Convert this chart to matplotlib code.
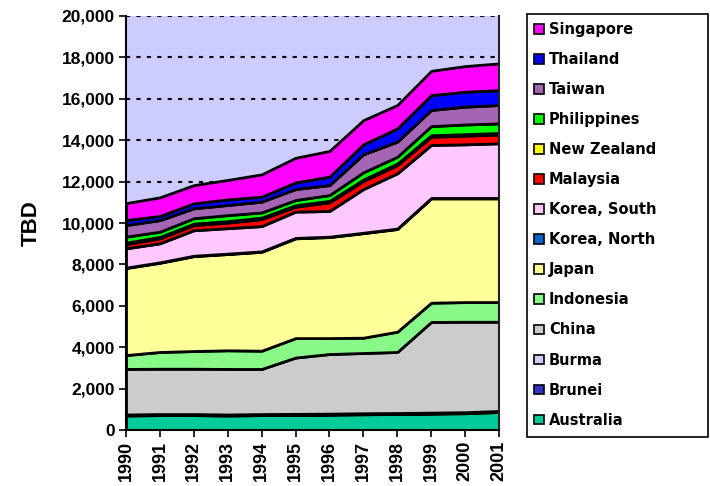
import matplotlib
matplotlib.use("Agg")
import matplotlib.pyplot as plt
from matplotlib.patches import Patch, Rectangle
import numpy as np

years = [1990, 1991, 1992, 1993, 1994, 1995, 1996, 1997, 1998, 1999, 2000, 2001]

australia   = [700, 720, 720, 700, 720, 730, 740, 760, 770, 790, 810, 870]
brunei      = [20, 20, 20, 20, 20, 20, 20, 20, 20, 20, 20, 20]
burma       = [30, 30, 30, 30, 30, 30, 30, 30, 30, 30, 30, 30]
china       = [2200, 2190, 2190, 2200, 2180, 2720, 2880, 2910, 2950, 4380, 4370, 4310]
indonesia   = [670, 810, 855, 900, 880, 940, 770, 740, 980, 930, 950, 950]
japan       = [4205, 4310, 4585, 4650, 4780, 4820, 4880, 5050, 4960, 5040, 5010, 5010]
korea_north = [20, 20, 20, 20, 20, 20, 20, 20, 20, 20, 20, 20]
korea_south = [930, 920, 1230, 1230, 1220, 1270, 1240, 2110, 2670, 2560, 2590, 2640]
malaysia    = [205, 240, 250, 270, 340, 240, 420, 390, 400, 400, 420, 430]
new_zealand = [70, 70, 70, 70, 70, 70, 70, 70, 70, 70, 70, 70]
philippines = [290, 250, 260, 290, 250, 250, 280, 350, 330, 440, 470, 460]
taiwan      = [560, 560, 480, 490, 520, 530, 480, 870, 730, 780, 860, 890]
thailand    = [240, 200, 240, 270, 240, 320, 410, 480, 640, 720, 720, 720]
singapore   = [820, 900, 880, 940, 1080, 1190, 1240, 1170, 1130, 1170, 1240, 1290]

series_names = ["Australia", "Brunei", "Burma", "China", "Indonesia", "Japan",
                "Korea, North", "Korea, South", "Malaysia", "New Zealand",
                "Philippines", "Taiwan", "Thailand", "Singapore"]
series_values = [australia, brunei, burma, china, indonesia, japan, korea_north,
                 korea_south, malaysia, new_zealand, philippines, taiwan,
                 thailand, singapore]
colors = ["#00CC99", "#3333CC", "#CCCCFF", "#CCCCCC", "#88F888", "#FFFF99",
          "#0066CC", "#FFC8FF", "#FF0000", "#FFFF00", "#00FF00", "#A466B4",
          "#0000FF", "#FF00FF"]

yticks = [0, 2000, 4000, 6000, 8000, 10000, 12000, 14000, 16000, 18000, 20000]
ytick_labels = ["0", "2,000", "4,000", "6,000", "8,000", "10,000", "12,000",
                "14,000", "16,000", "18,000", "20,000"]

plt.rcParams['font.family'] = ['Liberation Sans', 'DejaVu Sans']

fig = plt.figure(figsize=(7.10, 4.86), dpi=100)
ax = fig.add_axes([126/710, 1-430/486, (499-126)/710, (430-16)/486])
ax.set_facecolor("#CCCCFF")

for yv in yticks[1:]:
    ax.axhline(yv, color="black", lw=1.5, ls=(0, (2, 3)), zorder=1)

polys = ax.stackplot(years, *series_values, colors=colors,
                     edgecolor="black", linewidth=2.0, zorder=2)

ax.set_xlim(years[0], years[-1])
ax.set_ylim(0, 20000)
ax.set_xticks(years)
ax.set_xticklabels([str(y) for y in years], rotation=90, fontweight="bold",
                   fontsize=13)
ax.set_yticks(yticks)
ax.set_yticklabels(ytick_labels, fontweight="bold", fontsize=12.5)
ax.tick_params(direction="out", length=5, width=1.2, color="black", pad=3)
ax.set_ylabel("TBD", fontweight="bold", fontsize=16, labelpad=14)

ax.spines["top"].set_visible(False)
for s in ["left", "bottom", "right"]:
    ax.spines[s].set_linewidth(1.5)
    ax.spines[s].set_color("black")
ax.spines["right"].set_color("#222222")

# legend box
fig.add_artist(Rectangle((527/710, 1-437/486), (708-527)/710, (437-14)/486,
                         transform=fig.transFigure, facecolor="white",
                         edgecolor="black", linewidth=1.2, zorder=0))

handles = [Patch(facecolor=c, edgecolor="black", linewidth=1.2)
           for c in colors]
leg = fig.legend(handles[::-1], series_names[::-1], loc="upper left",
                 bbox_to_anchor=(527/710, 1-15/486), frameon=False,
                 prop={"family": "DejaVu Sans", "weight": "bold", "size": 10.5},
                 handlelength=0.65, handleheight=0.65, handletextpad=0.35,
                 labelspacing=1.03, borderpad=0.5, borderaxespad=0)

fig.savefig("out.png", dpi=100)
